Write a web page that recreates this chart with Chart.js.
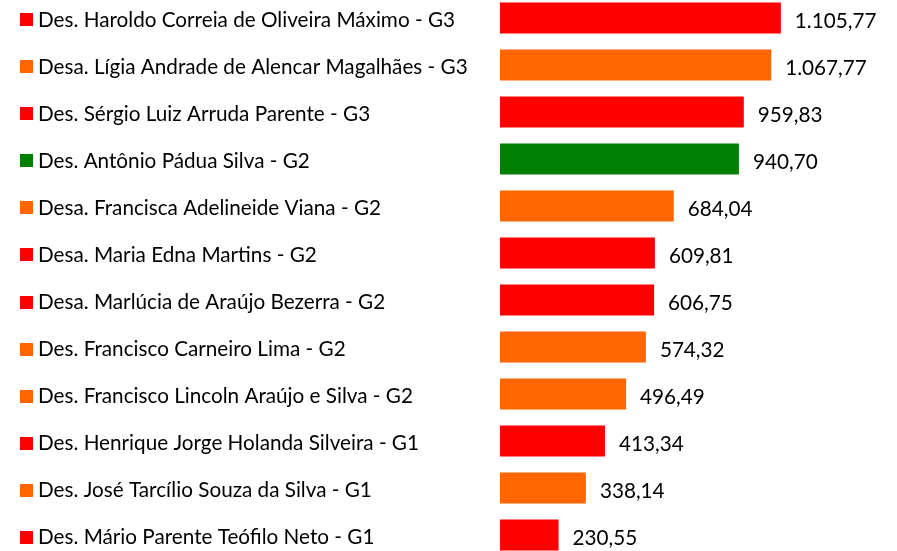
<!DOCTYPE html>
<html>
<head>
<meta charset="utf-8">
<script src="https://cdn.jsdelivr.net/npm/chart.js@4.4.1/dist/chart.umd.min.js"></script>
<style>
    html, body { margin: 0; padding: 0; background: #fff; overflow: hidden; }
    #wrap { position: relative; width: 897px; height: 551px; overflow: hidden; }
    /* the chart is a bit taller than the window: first and last rows are cut like in the source image */
    #box { position: absolute; left: 0; top: -18px; width: 897px; height: 589px; }
</style>
</head>
<body>
<div id="wrap"><div id="box"><canvas id="chart"></canvas></div></div>
<script>
    "use strict";

    const names = [
        "Des. Haroldo Correia de Oliveira Máximo - G3",
        "Desa. Lígia Andrade de Alencar Magalhães - G3",
        "Des. Sérgio Luiz Arruda Parente - G3",
        "Des. Antônio Pádua Silva - G2",
        "Desa. Francisca Adelineide Viana - G2",
        "Desa. Maria Edna Martins - G2",
        "Desa. Marlúcia de Araújo Bezerra - G2",
        "Des. Francisco Carneiro Lima - G2",
        "Des. Francisco Lincoln Araújo e Silva - G2",
        "Des. Henrique Jorge Holanda Silveira - G1",
        "Des. José Tarcílio Souza da Silva - G1",
        "Des. Mário Parente Teófilo Neto - G1"
    ];
    const totals = [1105.77, 1067.77, 959.83, 940.70, 684.04, 609.81, 606.75, 574.32, 496.49, 413.34, 338.14, 230.55];
    const barColors = ["#FF0000", "#FF6600", "#FF0000", "#008000", "#FF6600", "#FF0000",
                       "#FF0000", "#FF6600", "#FF6600", "#FF0000", "#FF6600", "#FF0000"];

    const FONT = { family: "Lato, 'Open Sans', sans-serif", size: 20.7 };

    // pt-BR style number: 1.105,77
    function fmt(v) {
        const parts = v.toFixed(2).split(".");
        const int = parts[0].replace(/\B(?=(\d{3})+(?!\d))/g, ".");
        return int + "," + parts[1];
    }

    // colored squares before each category label
    const markers = {
        id: "markers",
        afterDraw(chart) {
            const ctx = chart.ctx;
            const y = chart.scales.y;
            ctx.save();
            names.forEach((n, i) => {
                const py = y.getPixelForValue(i);
                ctx.fillStyle = barColors[i];
                ctx.fillRect(20, Math.round(py - 4.5), 13, 13);
            });
            ctx.restore();
        }
    };

    // value labels at the end of each bar
    const valueLabels = {
        id: "valueLabels",
        afterDatasetsDraw(chart) {
            const ctx = chart.ctx;
            const meta = chart.getDatasetMeta(0);
            ctx.save();
            ctx.font = `${FONT.size}px ${FONT.family}`;
            ctx.fillStyle = "#000";
            ctx.textAlign = "left";
            ctx.textBaseline = "middle";
            meta.data.forEach((bar, i) => {
                ctx.fillText(fmt(totals[i]), bar.x + 14, bar.y + 3);
            });
            ctx.restore();
        }
    };

    new Chart(document.getElementById("chart"), {
        type: "bar",
        data: {
            labels: names,
            datasets: [{
                data: totals,
                backgroundColor: barColors,
                borderWidth: 0,
                categoryPercentage: 1,
                barPercentage: 0.66
            }]
        },
        options: {
            indexAxis: "y",
            responsive: true,
            maintainAspectRatio: false,
            animation: false,
            events: [],
            layout: { padding: { left: 38, right: 16, top: 0, bottom: 0 } },
            plugins: { legend: { display: false }, tooltip: { enabled: false } },
            scales: {
                x: {
                    display: false,
                    min: 0,
                    max: 1500
                },
                y: {
                    grid: { display: false },
                    border: { display: false },
                    ticks: {
                        crossAlign: "far",
                        color: "#000",
                        font: FONT,
                        padding: 0,
                        labelOffset: 2
                    },
                    afterFit(scale) { scale.width = 462; }
                }
            }
        },
        plugins: [markers, valueLabels]
    });
</script>
</body>
</html>
